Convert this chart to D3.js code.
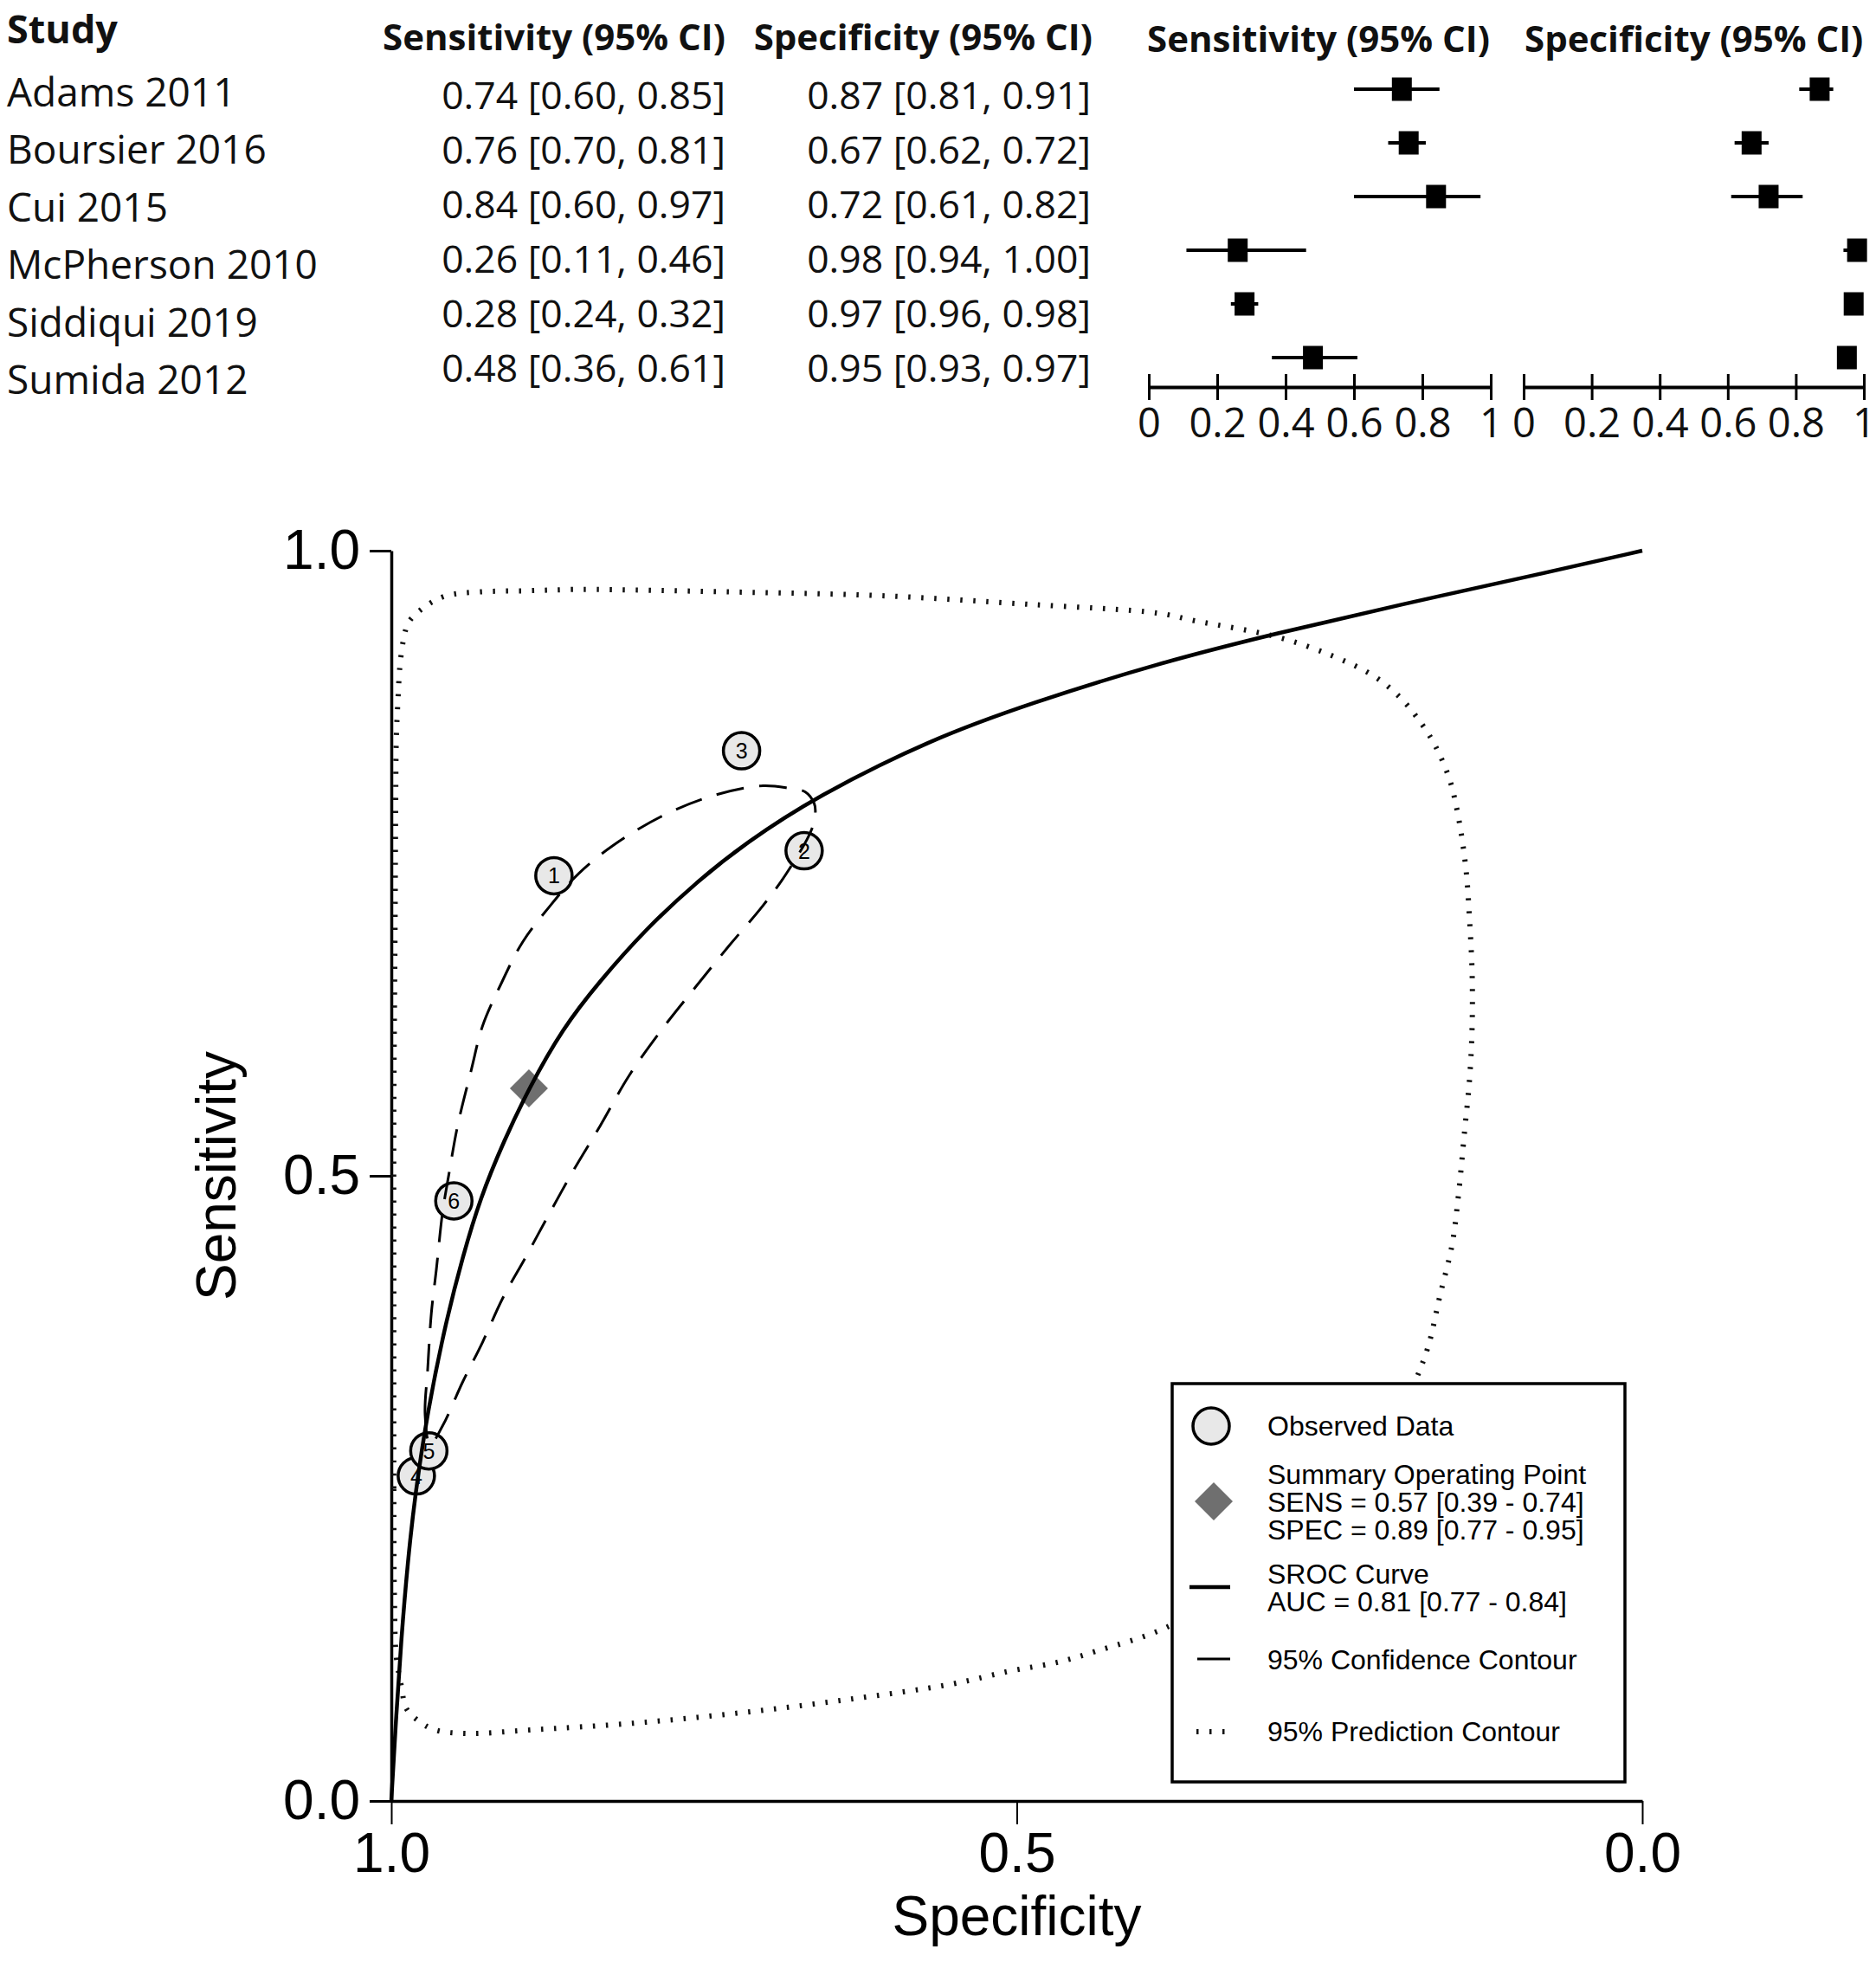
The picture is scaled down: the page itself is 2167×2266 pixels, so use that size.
<!DOCTYPE html>
<html lang="en">
<head>
<meta charset="UTF-8">
<title>SROC plot</title>
<script src="https://d3js.org/d3.v7.min.js"></script>
<style>
  body { margin: 0; background: #fff; }
  .forest text { font-family: "Open Sans", "Noto Sans", sans-serif; fill: #111; }
  .roc text { font-family: "Liberation Sans", Arial, Helvetica, sans-serif; fill: #000; }
</style>
</head>
<body>
<div id="chart"></div>
<script>
// study table
var studies = ["Adams 2011", "Boursier 2016", "Cui 2015", "McPherson 2010", "Siddiqui 2019", "Sumida 2012"];
var sens   = [0.74, 0.76, 0.84, 0.26, 0.28, 0.48];
var sensLo = [0.60, 0.70, 0.60, 0.11, 0.24, 0.36];
var sensHi = [0.85, 0.81, 0.97, 0.46, 0.32, 0.61];
var spec   = [0.87, 0.67, 0.72, 0.98, 0.97, 0.95];
var specLo = [0.81, 0.62, 0.61, 0.94, 0.96, 0.93];
var specHi = [0.91, 0.72, 0.82, 1.00, 0.98, 0.97];
var forestTicks = [0, 0.2, 0.4, 0.6, 0.8, 1];

// summary estimates [point, low, high]
var summarySens = [0.57, 0.39, 0.74];
var summarySpec = [0.89, 0.77, 0.95];
var aucValues = [0.81, 0.77, 0.84];
var rocTicks = [0, 0.5, 1];

// curves, [specificity, sensitivity]
var srocCurve = [
  [1.0, 0.0], [0.996, 0.070], [0.992, 0.130], [0.987, 0.190], [0.981, 0.245],
  [0.971, 0.312], [0.956, 0.385], [0.943, 0.435], [0.929, 0.482], [0.910, 0.528],
  [0.890, 0.570], [0.863, 0.618], [0.834, 0.655], [0.797, 0.697], [0.756, 0.735],
  [0.717, 0.766], [0.661, 0.803], [0.569, 0.849], [0.489, 0.878], [0.387, 0.910],
  [0.292, 0.934], [0.193, 0.957], [0.083, 0.981], [0.0, 1.0]
];

var confContour = [
  [0.969, 0.285], [0.973, 0.309], [0.971, 0.344], [0.968, 0.390], [0.964, 0.425],
  [0.959, 0.471], [0.954, 0.501], [0.947, 0.540], [0.936, 0.585], [0.927, 0.620],
  [0.913, 0.652], [0.895, 0.687], [0.873, 0.716], [0.850, 0.742], [0.823, 0.764],
  [0.783, 0.788], [0.743, 0.804], [0.703, 0.812], [0.682, 0.810], [0.669, 0.807],
  [0.662, 0.798], [0.661, 0.791], [0.664, 0.777], [0.684, 0.742], [0.703, 0.716],
  [0.730, 0.684], [0.756, 0.652], [0.783, 0.618], [0.810, 0.580], [0.833, 0.540],
  [0.854, 0.505], [0.873, 0.471], [0.892, 0.436], [0.911, 0.402], [0.927, 0.367],
  [0.943, 0.335], [0.959, 0.300]
];

var predContour = [
  [0.9975, 0.161], [0.998, 0.25], [0.998, 0.40], [0.998, 0.55], [0.997, 0.70],
  [0.9965, 0.80], [0.996, 0.85], [0.9947, 0.88], [0.993, 0.909], [0.990, 0.930],
  [0.986, 0.943], [0.972, 0.956], [0.956, 0.964], [0.930, 0.967], [0.890, 0.968],
  [0.848, 0.969], [0.729, 0.967], [0.609, 0.964], [0.489, 0.957], [0.387, 0.950],
  [0.358, 0.944], [0.292, 0.931], [0.248, 0.916], [0.215, 0.900], [0.193, 0.882],
  [0.176, 0.861], [0.165, 0.843], [0.154, 0.817], [0.147, 0.787], [0.141, 0.746],
  [0.138, 0.704], [0.136, 0.662], [0.136, 0.620], [0.138, 0.578], [0.142, 0.536],
  [0.147, 0.484], [0.152, 0.445], [0.162, 0.403], [0.171, 0.364], [0.183, 0.332],
  [0.20, 0.295], [0.23, 0.255], [0.27, 0.215], [0.32, 0.175],
  [0.381, 0.1385], [0.436, 0.120], [0.467, 0.111], [0.505, 0.104], [0.552, 0.0935],
  [0.636, 0.081], [0.720, 0.0706], [0.805, 0.0623], [0.889, 0.0568], [0.939, 0.054],
  [0.965, 0.0568], [0.979, 0.0646], [0.988, 0.074], [0.992, 0.092], [0.996, 0.1155]
];

var W = 2167, H = 2266;
var svg = d3.select("#chart").append("svg")
    .attr("width", W)
    .attr("height", H)
    .style("background", "#fff");

var f2 = d3.format(".2f");

// ---------- forest plot (top) ----------
var forest = svg.append("g").attr("class", "forest");

var nameY = d3.scaleLinear().domain([0, 5]).range([123, 455]);
var numY = d3.scaleLinear().domain([0, 5]).range([126, 441]);
var markY = d3.scaleLinear().domain([0, 5]).range([103, 413]);
var fxSens = d3.scaleLinear().domain([0, 1]).range([1327, 1722]);
var fxSpec = d3.scaleLinear().domain([0, 1]).range([1760, 2153]);

forest.append("text").text("Study")
    .attr("x", 8).attr("y", 50)
    .attr("font-size", 45).attr("font-weight", "bold");

forest.append("text").text("Sensitivity (95% CI)")
    .attr("x", 838).attr("y", 58).attr("text-anchor", "end")
    .attr("font-size", 42).attr("font-weight", "bold");
forest.append("text").text("Specificity (95% CI)")
    .attr("x", 1262).attr("y", 58).attr("text-anchor", "end")
    .attr("font-size", 42).attr("font-weight", "bold");
forest.append("text").text("Sensitivity (95% CI)")
    .attr("x", 1325).attr("y", 60)
    .attr("font-size", 42).attr("font-weight", "bold");
forest.append("text").text("Specificity (95% CI)")
    .attr("x", 1761).attr("y", 60)
    .attr("font-size", 42).attr("font-weight", "bold");

forest.selectAll("text.name")
    .data(studies)
    .enter()
    .append("text")
    .attr("class", "name")
    .text(function (d) { return d; })
    .attr("x", 8)
    .attr("y", function (d, i) { return nameY(i); })
    .attr("font-size", 46);

forest.selectAll("text.sensval")
    .data(studies)
    .enter()
    .append("text")
    .attr("class", "sensval")
    .text(function (d, i) { return f2(sens[i]) + " [" + f2(sensLo[i]) + ", " + f2(sensHi[i]) + "]"; })
    .attr("x", 838)
    .attr("y", function (d, i) { return numY(i); })
    .attr("text-anchor", "end")
    .attr("font-size", 44.5);

forest.selectAll("text.specval")
    .data(studies)
    .enter()
    .append("text")
    .attr("class", "specval")
    .text(function (d, i) { return f2(spec[i]) + " [" + f2(specLo[i]) + ", " + f2(specHi[i]) + "]"; })
    .attr("x", 1260)
    .attr("y", function (d, i) { return numY(i); })
    .attr("text-anchor", "end")
    .attr("font-size", 44.5);

function drawForest(scale, est, lo, hi, cls) {
    forest.selectAll("line." + cls)
        .data(est)
        .enter()
        .append("line")
        .attr("class", cls)
        .attr("x1", function (d, i) { return scale(lo[i]); })
        .attr("x2", function (d, i) { return scale(hi[i]); })
        .attr("y1", function (d, i) { return markY(i); })
        .attr("y2", function (d, i) { return markY(i); })
        .attr("stroke", "#000")
        .attr("stroke-width", 4);

    forest.selectAll("rect." + cls)
        .data(est)
        .enter()
        .append("rect")
        .attr("class", cls)
        .attr("x", function (d) { return scale(d) - 11.5; })
        .attr("y", function (d, i) { return markY(i) - 13.5; })
        .attr("width", 23)
        .attr("height", 27)
        .attr("fill", "#000");

    var ax = forest.append("g")
        .attr("transform", "translate(0,447)")
        .call(d3.axisBottom(scale)
            .tickValues(forestTicks)
            .tickFormat(d3.format("~g"))
            .tickSizeInner(15)
            .tickSizeOuter(0)
            .tickPadding(10));
    ax.select(".domain").attr("stroke-width", 4);
    ax.selectAll(".tick line").attr("y1", -15).attr("stroke-width", 3);
    ax.selectAll(".tick text")
        .attr("font-size", 47)
        .attr("font-family", "'Open Sans', sans-serif")
        .attr("fill", "#111");
}

drawForest(fxSens, sens, sensLo, sensHi, "fsens");
drawForest(fxSpec, spec, specLo, specHi, "fspec");

// ---------- SROC plot ----------
var roc = svg.append("g").attr("class", "roc");

var x = d3.scaleLinear().domain([1, 0]).range([452, 1897]);
var y = d3.scaleLinear().domain([0, 1]).range([2080, 636]);

var xAxis = roc.append("g")
    .attr("transform", "translate(0,2080)")
    .call(d3.axisBottom(x)
        .tickValues(rocTicks)
        .tickFormat(d3.format(".1f"))
        .tickSizeInner(27)
        .tickSizeOuter(0)
        .tickPadding(10));
xAxis.select(".domain").attr("stroke-width", 3.5);
xAxis.selectAll(".tick line").attr("stroke-width", 2);
xAxis.selectAll(".tick text")
    .attr("font-size", 64)
    .attr("font-family", "'Liberation Sans', Arial, sans-serif")
    .attr("fill", "#000");

var yAxis = roc.append("g")
    .attr("transform", "translate(452,0)")
    .call(d3.axisLeft(y)
        .tickValues(rocTicks)
        .tickFormat(d3.format(".1f"))
        .tickSizeInner(25)
        .tickSizeOuter(0)
        .tickPadding(11));
yAxis.select(".domain").attr("stroke-width", 3.5);
yAxis.selectAll(".tick line").attr("stroke-width", 3);
yAxis.selectAll(".tick text")
    .attr("font-size", 64)
    .attr("font-family", "'Liberation Sans', Arial, sans-serif")
    .attr("fill", "#000");

roc.append("text").text("Specificity")
    .attr("x", x(0.5)).attr("y", 2235)
    .attr("text-anchor", "middle")
    .attr("font-size", 64);

roc.append("text").text("Sensitivity")
    .attr("transform", "translate(272," + y(0.5) + ") rotate(-90)")
    .attr("text-anchor", "middle")
    .attr("font-size", 64);

// markers first, curves are drawn over them
var pts = roc.selectAll("g.study")
    .data(studies)
    .enter()
    .append("g")
    .attr("class", "study")
    .attr("transform", function (d, i) { return "translate(" + x(spec[i]) + "," + y(sens[i]) + ")"; });

pts.append("circle")
    .attr("r", 21)
    .attr("fill", "#e8e8e8")
    .attr("stroke", "#000")
    .attr("stroke-width", 3.5);

pts.append("text")
    .text(function (d, i) { return i + 1; })
    .attr("text-anchor", "middle")
    .attr("dy", "0.36em")
    .attr("font-size", 25)
    .attr("fill", "#222");

var diamond = d3.symbol().type(d3.symbolSquare).size(968);

roc.append("path")
    .attr("d", diamond())
    .attr("transform", "translate(" + x(summarySpec[0]) + "," + y(summarySens[0]) + ") rotate(45)")
    .attr("fill", "#6f6f6f");

var line = d3.line()
    .x(function (d) { return x(d[0]); })
    .y(function (d) { return y(d[1]); });

roc.append("path")
    .datum(predContour)
    .attr("d", line.curve(d3.curveCatmullRomClosed.alpha(0.5)))
    .attr("fill", "none")
    .attr("stroke", "#111")
    .attr("stroke-width", 6)
    .attr("stroke-dasharray", "2.5,12.5");

roc.append("path")
    .datum(confContour)
    .attr("d", line.curve(d3.curveCatmullRomClosed.alpha(0.5)))
    .attr("fill", "none")
    .attr("stroke", "#000")
    .attr("stroke-width", 3)
    .attr("stroke-dasharray", "32,18");

roc.append("path")
    .datum(srocCurve)
    .attr("d", line.curve(d3.curveBasis))
    .attr("fill", "none")
    .attr("stroke", "#000")
    .attr("stroke-width", 4.5);

// ---------- legend ----------
var legend = roc.append("g").attr("class", "legend");

legend.append("rect")
    .attr("x", 1354).attr("y", 1598)
    .attr("width", 523).attr("height", 460)
    .attr("fill", "#fff")
    .attr("stroke", "#000")
    .attr("stroke-width", 3.5);

legend.append("circle")
    .attr("cx", 1399).attr("cy", 1647).attr("r", 21)
    .attr("fill", "#e8e8e8").attr("stroke", "#000").attr("stroke-width", 3.5);

legend.append("path")
    .attr("d", diamond())
    .attr("transform", "translate(1402,1734) rotate(45)")
    .attr("fill", "#6f6f6f");

legend.append("line")
    .attr("x1", 1374).attr("x2", 1421).attr("y1", 1833).attr("y2", 1833)
    .attr("stroke", "#000").attr("stroke-width", 4.5);

legend.append("line")
    .attr("x1", 1383).attr("x2", 1421).attr("y1", 1916).attr("y2", 1916)
    .attr("stroke", "#000").attr("stroke-width", 3);

legend.append("line")
    .attr("x1", 1382).attr("x2", 1418).attr("y1", 2000).attr("y2", 2000)
    .attr("stroke", "#111").attr("stroke-width", 6)
    .attr("stroke-dasharray", "2.5,12.5");

var legendLines = [
    ["Observed Data", 1658],
    ["Summary Operating Point", 1714],
    ["SENS = " + f2(summarySens[0]) + " [" + f2(summarySens[1]) + " - " + f2(summarySens[2]) + "]", 1746],
    ["SPEC = " + f2(summarySpec[0]) + " [" + f2(summarySpec[1]) + " - " + f2(summarySpec[2]) + "]", 1778],
    ["SROC Curve", 1829],
    ["AUC = " + f2(aucValues[0]) + " [" + f2(aucValues[1]) + " - " + f2(aucValues[2]) + "]", 1861],
    ["95% Confidence Contour", 1928],
    ["95% Prediction Contour", 2011]
];

legend.selectAll("text")
    .data(legendLines)
    .enter()
    .append("text")
    .text(function (d) { return d[0]; })
    .attr("x", 1464)
    .attr("y", function (d) { return d[1]; })
    .attr("font-size", 32);
</script>
</body>
</html>
